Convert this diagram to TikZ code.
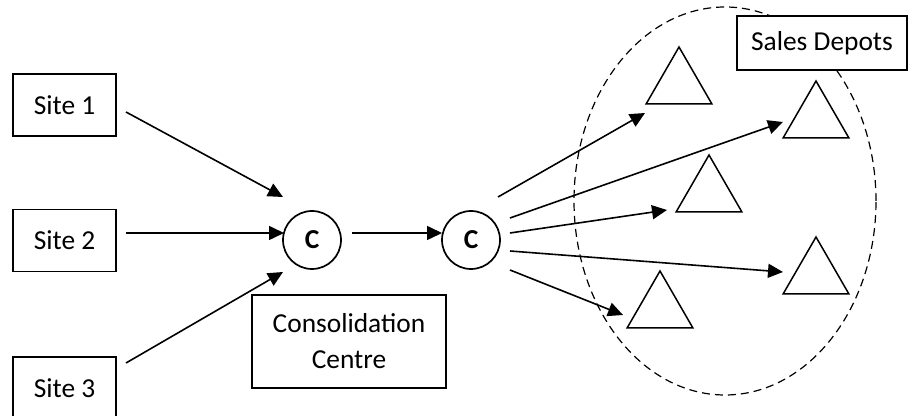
\documentclass[tikz,border=0pt]{standalone}
\usepackage{fontspec}
\setmainfont{Carlito}
\usetikzlibrary{arrows.meta}
\usetikzlibrary{shapes.geometric}

\begin{document}
\begin{tikzpicture}[x=0.5pt,y=-0.5pt,
  box/.style={draw,line width=0.85pt,minimum width=51.5pt,minimum height=31pt,inner sep=0pt},
  hub/.style={draw,circle,line width=0.85pt,minimum size=29pt,inner sep=0pt,font=\bfseries},
  depot/.style={draw,regular polygon,regular polygon sides=3,minimum size=38pt,inner sep=0pt,line width=0.75pt},
  flow/.style={-{Triangle[length=7.5pt,width=7pt]},line width=0.8pt}]
  \fontsize{13.7}{16.5}\selectfont
  \clip (0,0) rectangle (910,416);
  \fill[white] (0,0) rectangle (910,416);

  % sites
  \node (site1) at (64.5,105) [box] {Site 1};
  \node (site2) at (64.5,240.5) [box] {Site 2};
  \node (site3) at (64.5,388) [box] {Site 3};

  % consolidation
  \node (c1) at (312,240) [hub] {C};
  \node (c2) at (471,240) [hub] {C};
  \node (cons) at (349,341.5) [box,minimum width=97pt,minimum height=46.5pt,align=center,
    font=\fontsize{13.7}{18}\selectfont] {Consolidation\\Centre};

  % depots
  \node (zone) at (725,201) [draw,ellipse,line width=0.6pt,dash pattern=on 4pt off 2.5pt,
    minimum width=151pt,minimum height=194pt] {};
  \node (sd) at (822,43) [box,fill=white,minimum width=85pt,minimum height=27pt] {Sales Depots};
  \node (t1) at (679,85) [depot] {};
  \node (t2) at (816,119) [depot] {};
  \node (t3) at (709,193) [depot] {};
  \node (t4) at (816,275) [depot] {};
  \node (t5) at (660,309) [depot] {};

  \draw[flow] ([shift={(61.5,7)}]site1.center) -- ([shift={(-29,-43)}]c1.center);
  \draw[flow] ([shift={(61.5,-7.5)}]site2.center) -- ([shift={(-28,-7)}]c1.center);
  \draw[flow] ([shift={(61.5,-25)}]site3.center) -- ([shift={(-29,32)}]c1.center);

  \draw[flow] ([shift={(40,-7)}]c1.center) -- ([shift={(-29,-7)}]c2.center);

  \draw[flow] ([shift={(27,-43)}]c2.center) -- ([shift={(-34,28)}]t1.center);
  \draw[flow] ([shift={(39,-22)}]c2.center) -- ([shift={(-33,3)}]t2.center);
  \draw[flow] ([shift={(39,-7)}]c2.center) -- ([shift={(-42,17)}]t3.center);
  \draw[flow] ([shift={(39,11)}]c2.center) -- ([shift={(-33,-3)}]t4.center);
  \draw[flow] ([shift={(39,30)}]c2.center) -- ([shift={(-37,6)}]t5.center);
\end{tikzpicture}
\end{document}
